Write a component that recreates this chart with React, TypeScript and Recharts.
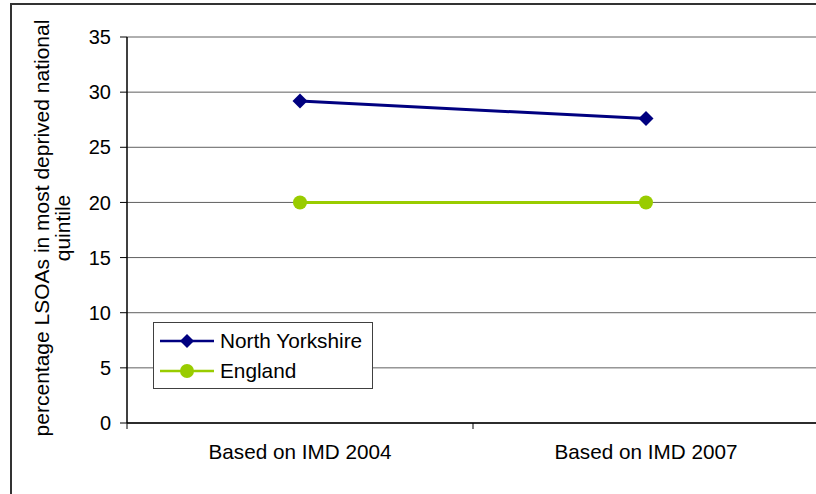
import React from "react";
import { LineChart, Line, XAxis, YAxis, CartesianGrid } from "recharts";

const categories = ["Based on IMD 2004", "Based on IMD 2007"];
const northYorkshire = [29.2, 27.6];
const england = [20, 20];
const yTicks = [0, 5, 10, 15, 20, 25, 30, 35];
const yLabelLines = ["percentage LSOAs in most deprived national", "quintile"];
const seriesNames = ["North Yorkshire", "England"];

const data = categories.map((c, i) => ({
  pos: i + 0.5,
  name: c,
  ny: northYorkshire[i],
  en: england[i],
}));

const FONT = "'Liberation Sans', Arial, sans-serif";
const NAVY = "#000080";
const GREEN = "#99CC00";

const Diamond = (props: any) => {
  const { cx, cy, fill } = props;
  if (cx == null || cy == null) return null;
  const r = 7.5;
  return (
    <path
      d={`M${cx},${cy - r}L${cx + r},${cy}L${cx},${cy + r}L${cx - r},${cy}Z`}
      fill={fill}
    />
  );
};

const Dot = (props: any) => {
  const { cx, cy, fill } = props;
  if (cx == null || cy == null) return null;
  return <circle cx={cx} cy={cy} r={7} fill={fill} />;
};

const XTick = (props: any) => {
  const { x, y, payload } = props;
  const v = payload.value;
  if (Number.isInteger(v)) {
    return <line x1={x} x2={x} y1={y} y2={y + 6} stroke="#000" strokeWidth={1} />;
  }
  const idx = Math.floor(v);
  return (
    <text x={x} y={y + 36} textAnchor="middle" fontFamily={FONT} fontSize={20.7} fill="#000">
      {categories[idx]}
    </text>
  );
};

const YLabel = () => {
  const cy = 228;
  return (
    <g>
      {yLabelLines.map((t, i) => {
        const cx = 48.5 + i * 21.5;
        return (
          <text
            key={i}
            x={cx}
            y={cy}
            transform={`rotate(-90, ${cx}, ${cy})`}
            textAnchor="middle"
            fontFamily={FONT}
            fontSize={21}
            fill="#000"
          >
            {t}
          </text>
        );
      })}
    </g>
  );
};

const LegendBox = () => {
  const items = [
    { label: seriesNames[0], color: NAVY, shape: "diamond" },
    { label: seriesNames[1], color: GREEN, shape: "circle" },
  ];
  return (
    <div
      style={{
        position: "absolute",
        left: 153,
        top: 322,
        width: 220,
        height: 67,
        border: "1px solid #404040",
        background: "#fff",
        boxSizing: "border-box",
        fontFamily: FONT,
        fontSize: 20.8,
      }}
    >
      {items.map((it, i) => (
        <div
          key={it.label}
          style={{
            position: "absolute",
            left: 0,
            top: 6 + i * 30,
            height: 24,
            display: "flex",
            alignItems: "center",
          }}
        >
          <svg width={60} height={20} style={{ marginLeft: 6, display: "block" }}>
            <line x1={0} x2={54} y1={10} y2={10} stroke={it.color} strokeWidth={2.5} />
            {it.shape === "diamond" ? (
              <path d="M27,3L34,10L27,17L20,10Z" fill={it.color} />
            ) : (
              <circle cx={27} cy={10} r={7} fill={it.color} />
            )}
          </svg>
          <span style={{ color: "#000", lineHeight: "24px" }}>{it.label}</span>
        </div>
      ))}
    </div>
  );
};

export default function App() {
  return (
    <div
      style={{
        position: "fixed",
        left: 0,
        top: 0,
        width: 816,
        height: 494,
        overflow: "hidden",
        background: "#fff",
      }}
    >
      <div
        style={{
          position: "absolute",
          left: 10,
          top: 3,
          width: 900,
          height: 600,
          border: "2px solid #333",
          boxSizing: "border-box",
        }}
      />
      <div style={{ position: "absolute", left: 0, top: 0 }}>
        <LineChart
          width={830}
          height={494}
          data={data}
          margin={{ top: 37, right: 11, bottom: 41, left: 0 }}
        >
          <CartesianGrid vertical={false} stroke="#606060" strokeWidth={1} />
          <XAxis
            dataKey="pos"
            type="number"
            domain={[0, 2]}
            ticks={[0, 0.5, 1, 1.5, 2]}
            interval={0}
            tick={<XTick />}
            tickLine={false}
            tickSize={0}
            tickMargin={0}
            axisLine={{ stroke: "#000", strokeWidth: 1.5 }}
            height={30}
          />
          <YAxis
            type="number"
            domain={[0, 35]}
            ticks={yTicks}
            interval={0}
            width={127}
            tickSize={7}
            tickMargin={9}
            tick={{ fontFamily: FONT, fontSize: 20, fill: "#000" }}
            tickLine={{ stroke: "#000" }}
            axisLine={{ stroke: "#000", strokeWidth: 1.5 }}
            label={<YLabel />}
          />
          <Line
            dataKey="ny"
            name={seriesNames[0]}
            stroke={NAVY}
            strokeWidth={3}
            dot={<Diamond fill={NAVY} />}
            isAnimationActive={false}
          />
          <Line
            dataKey="en"
            name={seriesNames[1]}
            stroke={GREEN}
            strokeWidth={3}
            dot={<Dot fill={GREEN} />}
            isAnimationActive={false}
          />
        </LineChart>
      </div>
      <LegendBox />
    </div>
  );
}
